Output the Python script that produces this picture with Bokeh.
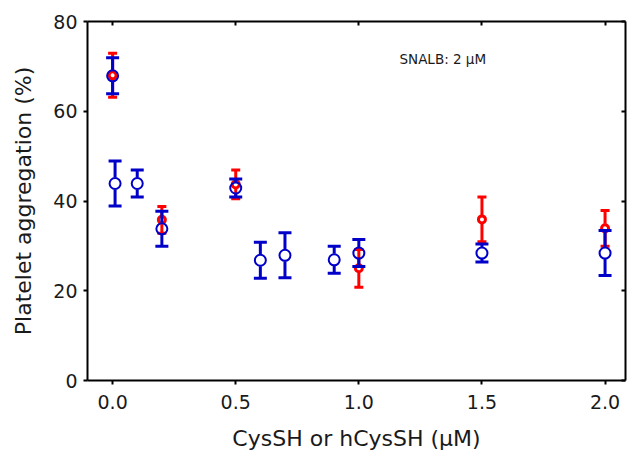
from bokeh.plotting import figure
from bokeh.models import LinearAxis, FixedTicker, ColumnDataSource, Range1d
from bokeh.core.properties import value
from bokeh.embed import file_html
from bokeh.resources import INLINE

# Data
red_x = [0.0, 0.2, 0.5, 1.0, 1.5, 2.0]
red_y = [68.0, 35.8, 43.7, 25.0, 35.9, 33.9]
red_err = [4.9, 3.0, 3.2, 4.2, 5.0, 4.0]

blue_x = [0.0, 0.01, 0.1, 0.2, 0.5, 0.6, 0.7, 0.9, 1.0, 1.5, 2.0]
blue_y = [67.9, 43.9, 43.9, 33.8, 42.9, 26.8, 27.9, 26.9, 28.4, 28.4, 28.4]
blue_err = [4.0, 5.0, 3.0, 3.9, 2.0, 4.0, 5.0, 3.0, 3.0, 2.0, 5.0]

x_ticks = [0.0, 0.5, 1.0, 1.5, 2.0]
y_ticks = [0, 20, 40, 60, 80]

FONT = "DejaVu Sans"
TXT = "#1a1a1a"
RED = "#ff0000"
BLUE = "#0000c8"

W, H = 627, 454
B_LEFT, B_RIGHT, B_TOP, B_BOTTOM = 87, 2, 21, 74

p = figure(width=W, height=H, output_backend="svg", toolbar_location=None,
           x_range=Range1d(-0.102, 2.083), y_range=Range1d(0, 80),
           min_border_left=B_LEFT, min_border_right=B_RIGHT,
           min_border_top=B_TOP, min_border_bottom=B_BOTTOM)
p.grid.visible = False
p.outline_line_color = None
p.background_fill_color = "white"
p.border_fill_color = "white"

for ax in [p.xaxis[0], p.yaxis[0]]:
    ax.axis_line_width = 2
    ax.axis_line_color = "black"
    ax.major_tick_line_width = 2
    ax.major_tick_line_color = "black"
    ax.minor_tick_line_color = None
    ax.major_tick_in = 0
    ax.major_label_text_font = FONT
    ax.major_label_text_font_size = "19px"
    ax.major_label_text_color = TXT
    ax.axis_label_text_font = FONT
    ax.axis_label_text_font_size = "22px"
    ax.axis_label_text_font_style = "normal"
    ax.axis_label_text_color = TXT

p.xaxis[0].ticker = FixedTicker(ticks=x_ticks)
p.xaxis[0].major_label_overrides = {t: f"{t:.1f}" for t in x_ticks}
p.xaxis[0].major_tick_out = 4
p.xaxis[0].major_label_standoff = 10
p.xaxis[0].axis_label = "CysSH or hCysSH (μM)"
p.xaxis[0].axis_label_standoff = 14

p.yaxis[0].ticker = FixedTicker(ticks=y_ticks)
p.yaxis[0].major_tick_out = 4
p.yaxis[0].major_label_standoff = 6
p.yaxis[0].axis_label = "Platelet aggregation (%)"
p.yaxis[0].axis_label_standoff = 14

for loc, ticks in [("above", x_ticks), ("right", y_ticks)]:
    ax = LinearAxis(ticker=FixedTicker(ticks=ticks))
    ax.axis_line_width = 2
    ax.axis_line_color = "black"
    ax.major_tick_line_width = 2
    ax.major_tick_line_color = "black"
    ax.minor_tick_line_color = None
    ax.major_tick_in = 4
    ax.major_tick_out = 0
    ax.major_label_text_font_size = "0px"
    ax.major_label_standoff = 0
    ax.major_label_overrides = {t: "" for t in ticks}
    p.add_layout(ax, loc)

# convert marker radius (px) into data units so stems start at circle edge
px_per_unit = (H - B_TOP - B_BOTTOM) / 80.0
red_gap = 4.5 / px_per_unit
blue_gap = 6.0 / px_per_unit


def draw_series(xs, ys, errs, color, gap, cap_w, size, lw, fill):
    src = ColumnDataSource(dict(
        x=xs, y=ys,
        top=[y + e for y, e in zip(ys, errs)],
        bot=[y - e for y, e in zip(ys, errs)],
        top0=[y + gap for y in ys],
        bot0=[y - gap for y in ys],
    ))
    p.segment(x0="x", y0="top0", x1="x", y1="top", source=src, line_color=color, line_width=3)
    p.segment(x0="x", y0="bot0", x1="x", y1="bot", source=src, line_color=color, line_width=3)
    p.rect(x="x", y="top", width=cap_w, height=3, width_units="screen", height_units="screen",
           source=src, fill_color=color, line_color=None)
    p.rect(x="x", y="bot", width=cap_w, height=3, width_units="screen", height_units="screen",
           source=src, fill_color=color, line_color=None)
    p.scatter(x="x", y="y", source=src, marker="circle", size=size, line_color=color,
              line_width=lw, fill_color=fill)


draw_series(red_x, red_y, red_err, RED, red_gap, 9, 7, 3, "white")
draw_series(blue_x, blue_y, blue_err, BLUE, blue_gap, 13, 11, 2, None)

p.text(x=[1.165], y=[71.6], text=["SNALB: 2 μM"], text_font=value(FONT),
       text_font_size="13.5px", text_color=TXT, text_align="left", text_baseline="middle")

open("out.html", "w").write(file_html(p, INLINE))
